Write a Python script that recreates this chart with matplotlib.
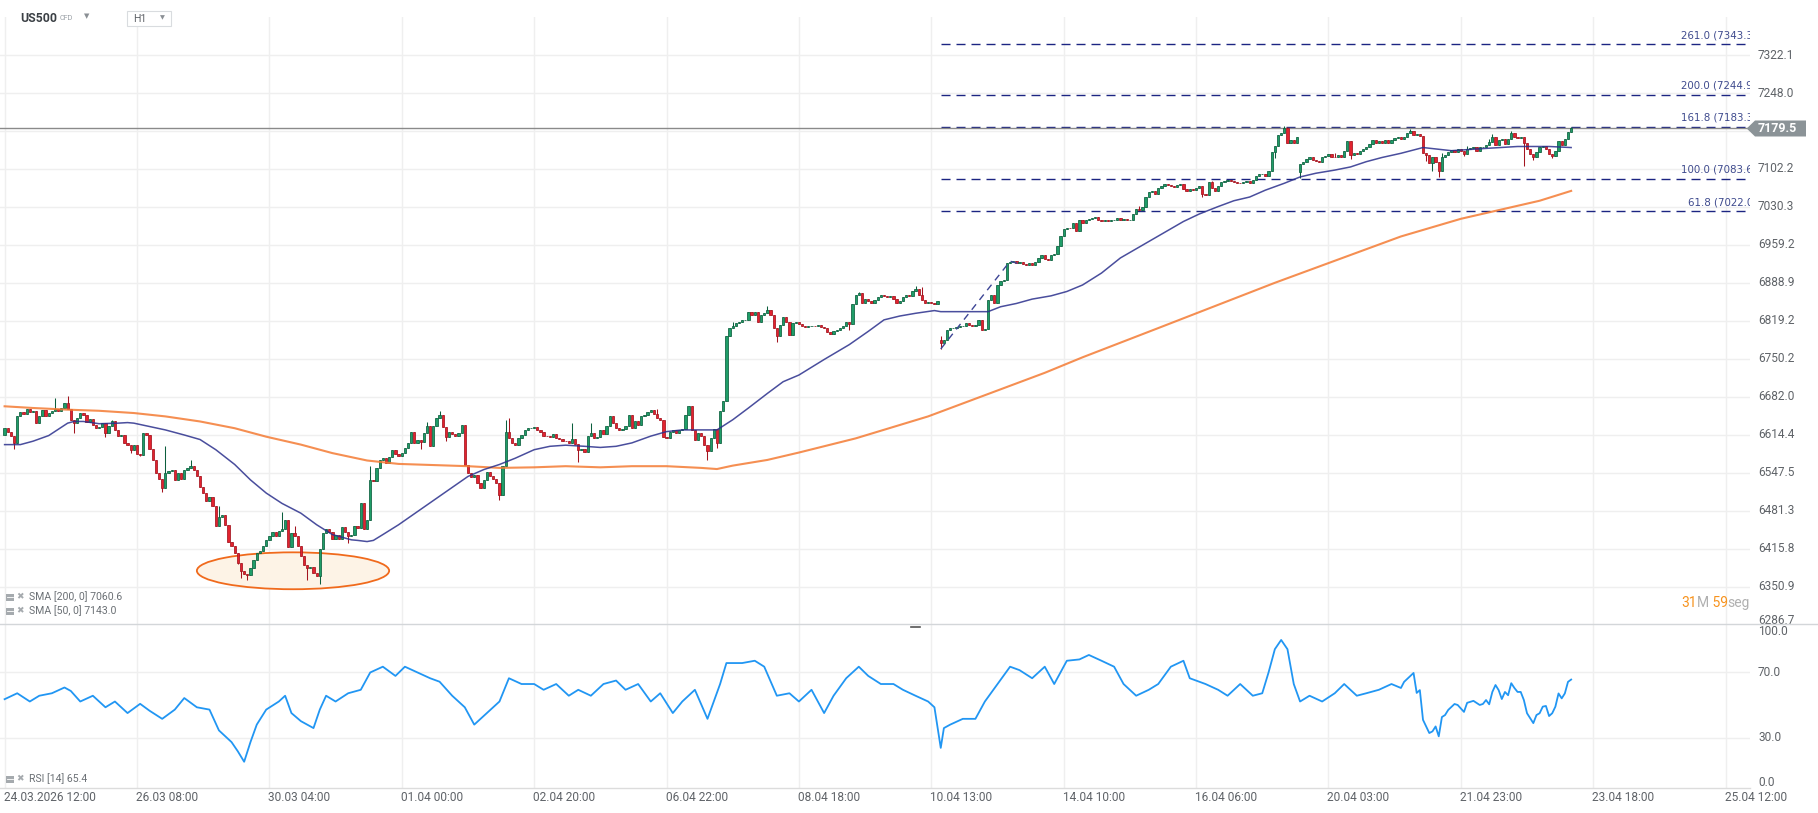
import numpy as np
import matplotlib
matplotlib.use("Agg")
import matplotlib.pyplot as plt
import matplotlib.transforms as mtransforms
from matplotlib.patches import Ellipse, Polygon, Rectangle
from matplotlib.lines import Line2D
from matplotlib.ticker import NullLocator

plt.rcParams['font.family'] = ['Roboto', 'DejaVu Sans']
plt.rcParams['lines.scale_dashes'] = False

# ---------------- data ----------------
first_open = 6614.0
closes_a = [6626, 6619, 6612, 6600, 6647, 6655, 6652, 6660, 6654, 6657,
            6636, 6647, 6658, 6647, 6653, 6656, 6660, 6656, 6662, 6671,
            6660, 6641, 6636, 6645, 6653, 6650, 6637, 6642, 6632, 6626,
            6628, 6636, 6617, 6630, 6638, 6623, 6612, 6614, 6600, 6596,
            6588, 6596, 6581, 6579, 6617, 6614, 6590, 6570, 6547, 6537,
            6520, 6547, 6550, 6553, 6535, 6547, 6537, 6553, 6556, 6560,
            6553, 6542, 6523, 6512, 6498, 6505, 6489, 6454, 6471, 6474,
            6456, 6428, 6420, 6408, 6392, 6378, 6372, 6370, 6382, 6397,
            6409, 6412, 6420, 6430, 6437, 6445, 6437, 6446, 6450, 6465,
            6418, 6442, 6437, 6420, 6403, 6388, 6383, 6385, 6374, 6369,
            6416, 6442, 6449, 6444, 6432, 6440, 6433, 6453, 6444, 6438,
            6440, 6454, 6451, 6494, 6450, 6466, 6535, 6533, 6555, 6570,
            6573, 6565, 6576, 6588, 6580, 6577]
closes_b = [6582, 6591, 6600, 6620, 6600, 6605, 6602, 6617, 6630, 6594,
            6630, 6645, 6650, 6628, 6610, 6619, 6615, 6612, 6617, 6632,
            6561, 6547, 6540, 6544, 6529, 6520, 6535, 6548, 6541, 6536,
            6529, 6508, 6560, 6620, 6608, 6600, 6597, 6608, 6614, 6623,
            6627, 6627, 6628, 6622, 6620, 6613, 6612, 6611, 6615, 6608,
            6607, 6604, 6603, 6600, 6607, 6598, 6588, 6590, 6584, 6613,
            6617, 6609, 6611, 6622, 6615, 6630, 6647, 6635, 6627, 6622,
            6625, 6630, 6650, 6627, 6638, 6631, 6648, 6650, 6655, 6659,
            6651, 6645, 6640, 6610, 6608, 6620, 6622, 6617, 6622, 6625,
            6650, 6665, 6622, 6605, 6617, 6613, 6596, 6585, 6608, 6625,
            6600, 6656, 6674, 6791, 6806, 6809, 6815, 6818, 6820, 6821,
            6836, 6830, 6836, 6818, 6830, 6834, 6839, 6830, 6806, 6791,
            6812, 6826, 6818, 6794, 6815, 6818]
closes_c = [6814, 6810, 6808, 6809, 6810, 6809, 6812, 6808, 6806, 6798,
            6795, 6801, 6803, 6807, 6810, 6818, 6814,
            6850, 6866, 6870, 6852, 6860, 6856, 6851, 6858, 6863, 6866,
            6864, 6862, 6865, 6859, 6852, 6856, 6862, 6866, 6864, 6873,
            6878, 6866, 6857, 6851, 6853, 6851, 6850, 6856]
closes_d = [6778, 6785, 6803, 6806, 6806, 6808, 6809, 6810, 6815, 6812,
            6810, 6812, 6820, 6803, 6805, 6857, 6866, 6851, 6885, 6892,
            6895, 6925, 6928, 6929, 6925, 6927, 6924, 6922, 6925, 6922,
            6928, 6934, 6941, 6933, 6931, 6940, 6942, 6958, 6976, 6988,
            6991, 6990, 7000, 6985, 7005, 7000, 7006, 7008, 7010, 7011,
            7006,
            7003, 7005, 7003, 7006, 7006, 7010, 7006, 7008, 7005, 7006,
            7017, 7027, 7024, 7031, 7049, 7058, 7061, 7055, 7066, 7069,
            7074, 7072, 7069, 7068, 7071, 7074, 7065, 7061, 7064, 7062,
            7066, 7069, 7055, 7053, 7077, 7066, 7061, 7070, 7078, 7080,
            7081, 7079, 7078, 7076, 7075, 7077, 7080, 7076, 7081, 7088,
            7092, 7093, 7089, 7099, 7135, 7145, 7167, 7171, 7180, 7152,
            7158, 7152, 7163]
closes_e = [7112, 7115, 7122, 7125, 7119, 7117, 7116, 7124, 7127, 7130,
            7125, 7124, 7129, 7124, 7137, 7156, 7128, 7133, 7130, 7137,
            7140, 7144, 7150, 7158, 7151, 7156, 7152, 7157, 7151, 7158,
            7162, 7163, 7160, 7164, 7170, 7175, 7167, 7168, 7165, 7132,
            7128, 7113, 7124, 7115, 7098, 7124, 7129, 7135, 7138, 7134,
            7140, 7136, 7131, 7141, 7143, 7144, 7137, 7144, 7144, 7147,
            7154, 7164, 7148, 7158, 7160, 7150, 7159, 7170, 7163, 7161,
            7163, 7152, 7141, 7131, 7124, 7135, 7144, 7145, 7141, 7131,
            7127, 7137, 7155, 7147, 7160, 7173, 7179.5]
gap_opens = {297: 6785.0, 411: 7097.0}
wick_high = {16: 6680, 20: 6684, 34: 6641, 51: 6595, 59: 6570, 68: 6489,
             88: 6479, 92: 6454, 116: 6560, 134: 6637, 138: 6656, 159: 6641,
             160: 6645, 180: 6636, 186: 6636, 207: 6660, 231: 6818, 242: 6847,
             271: 6872, 289: 6883, 291: 6881, 297: 6791, 360: 7033, 383: 7080,
             406: 7184, 407: 7183, 422: 7132, 446: 7178, 456: 7133, 464: 7145,
             471: 7160, 472: 7169, 478: 7174, 497: 7183}
wick_low = {3: 6590, 22: 6617, 32: 6611, 40: 6582, 43: 6577, 50: 6514,
            74: 6389, 75: 6366, 77: 6362, 96: 6362, 100: 6355, 109: 6425,
            132: 6590, 140: 6604, 157: 6500, 182: 6567, 223: 6570, 226: 6591,
            245: 6780, 268: 6803, 297: 6768, 380: 7049, 403: 7123, 411: 7085,
            427: 7122, 451: 7118, 453: 7098, 455: 7087, 463: 7127, 482: 7107,
            485: 7119, 491: 7123}

sma200_idx = [0, 9, 20, 30, 41, 51, 62, 73, 83, 94, 104, 115, 125, 136, 147,
              157, 168, 178, 189, 199, 210, 221, 226, 231, 242, 252, 270, 293,
              330, 342, 366, 403, 443, 462, 487, 497]
sma200_val = [6665, 6662, 6659, 6657, 6653, 6647, 6638, 6626, 6611, 6597, 6582,
              6569, 6563, 6561, 6559, 6556, 6557, 6559, 6557, 6559, 6559, 6556,
              6554, 6560, 6570, 6583, 6608, 6647, 6725, 6753, 6806, 6889, 6975,
              7008, 7042, 7060.6]
sma50_idx = [0, 5, 9, 14, 20, 22, 25, 30, 36, 39, 41, 46, 51, 57, 62, 67, 73,
             78, 83, 88, 94, 99, 104, 110, 112, 115, 117, 120, 125, 141, 147,
             152, 157, 162, 168, 173, 178, 184, 189, 194, 199, 205, 210, 215,
             221, 226, 231, 236, 242, 247, 252, 260, 268, 274, 279, 284, 289,
             295, 297, 312, 316, 321, 326, 332, 337, 342, 348, 354, 374, 379,
             385, 390, 395, 400, 406, 411, 416, 422, 427, 432, 437, 443, 450,
             459, 469, 480, 490, 497]
sma50_val = [6597, 6597, 6603, 6613, 6635, 6638, 6638, 6634, 6635, 6636, 6635,
             6629, 6623, 6614, 6606, 6588, 6562, 6535, 6512, 6494, 6477, 6457,
             6440, 6431, 6430, 6428, 6430, 6440, 6457, 6518, 6541, 6553, 6562,
             6573, 6588, 6594, 6596, 6594, 6592, 6594, 6600, 6612, 6620, 6623,
             6623, 6623, 6641, 6662, 6688, 6709, 6721, 6749, 6776, 6800, 6821,
             6828, 6833, 6838, 6836, 6836, 6845, 6851, 6859, 6865, 6873, 6885,
             6907, 6935, 7003, 7017, 7031, 7042, 7049, 7062, 7075, 7087, 7094,
             7100, 7106, 7116, 7124, 7132, 7143, 7137, 7141, 7145, 7145, 7143]

rsi_idx = [0, 4, 8, 11, 15, 19, 21, 24, 28, 32, 35, 39, 43, 46, 50, 54, 57,
           61, 65, 68, 72, 74, 76, 78, 80, 83, 87, 89, 91, 94, 98, 100, 102,
           105, 109, 113, 116, 120, 124, 127, 131, 135, 138, 142, 146, 149,
           153, 157, 160, 164, 168, 171, 175, 179, 182, 186, 190, 194, 197,
           201, 205, 208, 212, 215, 219, 223, 227, 229, 234, 238, 241, 245,
           249, 252, 256, 260, 263, 267, 271, 274, 278, 282, 285, 289, 293,
           295, 297, 298, 300, 304, 308, 311, 315, 319, 322, 326, 330, 333,
           337, 341, 344, 348, 352, 355, 359, 363, 366, 370, 374, 376, 381,
           385, 388, 392, 396, 399, 401, 403, 405, 407, 409, 411, 414, 418,
           422, 425, 429, 432, 436, 440, 443, 444, 447, 448, 449, 450, 452,
           453, 454, 455, 456, 457, 458, 460, 461, 463, 464, 466, 468, 469,
           470, 471, 472, 473, 474, 475, 476, 477, 478, 479, 480, 481, 482,
           483, 485, 486, 487, 488, 489, 490, 491, 492, 493, 494, 495, 496, 497]
rsi_val = [53.5, 57.1, 52.1, 55.6, 57.1, 60.6, 58.5, 52.1, 55.6, 48.6, 52.1,
           45.1, 50.7, 46.5, 41.6, 47.2, 54.2, 48.6, 47.2, 34.6, 27.5, 21.9,
           15.6, 27.5, 38.1, 47.2, 52.1, 55.6, 45.1, 40.2, 36.0, 47.2, 55.6,
           52.1, 57.1, 59.2, 69.7, 73.2, 67.6, 73.2, 69.7, 66.2, 64.1, 55.6,
           48.6, 38.1, 45.1, 52.1, 66.2, 62.7, 62.7, 59.2, 62.7, 55.6, 59.2,
           55.6, 62.7, 64.8, 59.2, 62.7, 52.1, 57.1, 45.1, 52.1, 59.2, 41.6,
           62.7, 75.4, 75.4, 76.8, 73.2, 55.6, 57.1, 52.1, 59.2, 45.1, 55.6,
           66.2, 73.2, 67.6, 62.7, 62.7, 59.2, 55.6, 52.1, 48.6, 24.0, 36.0,
           38.1, 41.6, 41.6, 52.1, 62.7, 73.2, 71.1, 66.2, 73.2, 62.7, 76.8,
           77.6, 80.3, 76.8, 73.2, 62.7, 55.6, 59.2, 62.7, 73.2, 76.8, 66.2,
           62.7, 59.2, 55.6, 62.7, 55.6, 57.1, 69.7, 83.8, 89.4, 83.8, 62.7,
           52.1, 55.6, 52.1, 57.1, 62.7, 55.6, 57.1, 59.2, 62.7, 60.3, 64.0,
           69.4, 57.3, 59.0, 41.0, 33.0, 34.0, 37.0, 31.0, 42.7, 43.9, 47.0,
           50.6, 50.0, 45.8, 51.3, 52.5, 50.0, 50.6, 53.0, 50.4, 57.9, 62.1,
           59.0, 53.6, 57.9, 55.9, 63.2, 60.3, 57.9, 57.9, 53.0, 45.0, 39.0,
           43.9, 45.0, 49.0, 49.4, 43.3, 45.0, 49.0, 57.0, 54.0, 57.0, 64.0, 65.4]

price_ticks = [7322.1, 7248.0, 7174.7, 7102.2, 7030.3, 6959.2, 6888.9, 6819.2,
               6750.2, 6682.0, 6614.4, 6547.5, 6481.3, 6415.8, 6350.9, 6286.7]
price_top, price_bottom = 7397.0, 6286.7
rsi_ticks = [100.0, 70.0, 30.0, 0.0]
date_labels = ['24.03.2026 12:00', '26.03 08:00', '30.03 04:00', '01.04 00:00',
               '02.04 20:00', '06.04 22:00', '08.04 18:00', '10.04 13:00',
               '14.04 10:00', '16.04 06:00', '20.04 03:00', '21.04 23:00',
               '23.04 18:00', '25.04 12:00']
bars_per_grid = 42
fib_levels = [261.0, 200.0, 161.8, 100.0, 61.8]
fib_prices = [7343.3, 7244.9, 7183.3, 7083.6, 7022.0]
fib_anchor_idx = [297, 319, 323]
fib_anchor_price = [6768, 6929, 6922]
last_price = 7179.5
sma200_last, sma50_last, rsi_last = 7060.6, 7143.0, 65.4
marked_low = dict(center_idx=91.5, center_price=6378, width_bars=61, height_price=63)

# ---------------- layout ----------------
W, H, DPI = 1818, 813, 100
BAR_PX, X0_PX = 3.152, 4.6
PLOT_R = 1750
MAIN_T, MAIN_B, RSI_B = 17.0, 624.6, 787.5

fig = plt.figure(figsize=(W / DPI, H / DPI), dpi=DPI)
fig.patch.set_facecolor('white')

def fx(px):
    return px / W

def fy(py):
    return 1 - py / H

ax = fig.add_axes([0, fy(MAIN_B), fx(PLOT_R), (MAIN_B - MAIN_T) / H])
axr = fig.add_axes([0, fy(RSI_B), fx(PLOT_R), (RSI_B - MAIN_B) / H])
xlim = (-X0_PX / BAR_PX, (PLOT_R - X0_PX) / BAR_PX)

closes = np.array(closes_a + closes_b + closes_c + closes_d + closes_e, dtype=float)
n = len(closes)
xi = np.arange(n)
opens = np.empty(n)
opens[0] = first_open
opens[1:] = closes[:-1]
for k, v in gap_opens.items():
    opens[k] = v
highs = np.maximum(opens, closes)
lows = np.minimum(opens, closes)
for k, v in wick_high.items():
    highs[k] = max(highs[k], v)
for k, v in wick_low.items():
    lows[k] = min(lows[k], v)
up = closes >= opens

G_FACE, G_EDGE = '#1f9d68', '#0c5f3d'
R_FACE, R_EDGE = '#e2232f', '#a3141f'
GRID = '#efefef'
LABEL = '#5f6368'

for a in (ax, axr):
    for s in a.spines.values():
        s.set_visible(False)
    a.set_xlim(*xlim)
    a.set_xticks(np.arange(0, len(date_labels) * bars_per_grid, bars_per_grid))
    a.tick_params(left=False, bottom=False, labelleft=False, labelbottom=False)
    a.grid(True, color=GRID, lw=1.0, zorder=0)
    a.set_axisbelow(True)
    a.set_facecolor('none')

ax.set_yscale('log')
ax.set_ylim(price_bottom, price_top)
ax.set_yticks(price_ticks)
ax.yaxis.set_minor_locator(NullLocator())
ax.tick_params(which='both', left=False, labelleft=False)

# marked zone (ellipse)
ax.add_patch(Ellipse((marked_low['center_idx'], marked_low['center_price']),
                     marked_low['width_bars'], marked_low['height_price'],
                     facecolor='#fdf3e6', edgecolor='#f06a1c', lw=1.3, zorder=1.5))

# candles
edge_cols = np.where(up, G_EDGE, R_EDGE)
face_cols = np.where(up, G_FACE, R_FACE)
ax.vlines(xi, lows, highs, colors=edge_cols, lw=0.75, zorder=3)
ax.bar(xi, np.abs(closes - opens), bottom=np.minimum(opens, closes), width=0.72,
       color=face_cols, edgecolor=edge_cols, linewidth=0.55, zorder=3.1)

# moving averages
ax.plot(sma200_idx, sma200_val, color='#f47b34', lw=1.5, alpha=0.85, zorder=4)
ax.plot(sma50_idx, sma50_val, color='#2a2f8c', lw=1.1, alpha=0.85, zorder=4)

# fibonacci extension
FIB_LINE = '#1c2582'
ax.plot(fib_anchor_idx, fib_anchor_price, color='#3d4595', lw=1.0,
        dashes=(5, 4), zorder=4.2)
for lv, p in zip(fib_levels, fib_prices):
    ax.plot([fib_anchor_idx[0], xlim[1]], [p, p], color=FIB_LINE, lw=1.0,
            dashes=(6.5, 4.3), zorder=2.5)
    tr = mtransforms.offset_copy(ax.get_yaxis_transform(), fig=fig, x=0, y=9, units='dots')
    ax.text(1757 / PLOT_R, p, f'{lv:.1f} ({p:.1f})', transform=tr, ha='right',
            va='center', fontsize=7.4, color='#3f4b8e', family='DejaVu Sans',
            clip_on=True, zorder=5)

# current price line
ax.axhline(last_price, color='#8a8a8a', lw=1.0, zorder=2.8)

# price axis labels
for p in price_ticks:
    if abs(p - 7174.7) < 0.01:
        continue
    dy = 4 if p == price_bottom else 0
    tr = mtransforms.offset_copy(ax.get_yaxis_transform(), fig=fig, x=0, y=dy, units='dots')
    ax.text(1758 / PLOT_R, p, f'{p:.1f}', transform=tr, ha='left', va='center',
            fontsize=8.6, color=LABEL, clip_on=False)

# price tag
fig.canvas.draw()
ytag = ax.transData.transform((0, last_price))[1]
tag_pts = [(1746.7, ytag), (1755, ytag + 8), (1806, ytag + 8), (1806, ytag - 8), (1755, ytag - 8)]
fig.add_artist(Polygon([(x / W, y / H) for x, y in tag_pts], closed=True,
                       transform=fig.transFigure, facecolor='#8b9397', edgecolor='none'))
fig.text(1777 / W, ytag / H, f'{last_price:.1f}', color='white', fontsize=9,
         fontweight='bold', ha='center', va='center')

# RSI panel
axr.set_ylim(0, 98.7)
axr.set_yticks([30, 70])
axr.plot(rsi_idx, rsi_val, color='#2196f3', lw=1.3, zorder=3)
axr.axhline(0, color='#dcdcdc', lw=1.0, clip_on=False)
rsi_offsets = {100.0: -9.5, 70.0: -1.0, 30.0: 0.0, 0.0: 5.5}
for v in rsi_ticks:
    tr = mtransforms.offset_copy(axr.get_yaxis_transform(), fig=fig, x=0,
                                 y=rsi_offsets[v], units='dots')
    axr.text(1758 / PLOT_R, v, f'{v:.1f}', transform=tr, ha='left', va='center',
             fontsize=8.6, color=LABEL, clip_on=False)

# date labels
for k, lab in enumerate(date_labels):
    tr = mtransforms.offset_copy(axr.get_xaxis_transform(), fig=fig, x=-1, y=-9.5, units='dots')
    axr.text(k * bars_per_grid, 0, lab, transform=tr, ha='left', va='center',
             fontsize=8.6, color=LABEL, clip_on=False)

# panel separator and handle
fig.add_artist(Line2D([0, 1], [fy(624.3)] * 2, color='#d3d6d9', lw=1.0))
fig.add_artist(Line2D([fx(911), fx(920)], [fy(626.5)] * 2, color='#555555', lw=1.2))

# legends
def legend_row(y, text):
    fig.add_artist(Rectangle((fx(6), fy(y + 3.5)), 8 / W, 7 / H, transform=fig.transFigure,
                             facecolor='#a5aaae', edgecolor='none'))
    fig.add_artist(Line2D([fx(7), fx(13)], [fy(y)] * 2, color='white', lw=0.6))
    fig.text(fx(16), fy(y), '\u2716', fontsize=6.5, color='#a5aaae', va='center',
             family='DejaVu Sans')
    fig.text(fx(29), fy(y), text, fontsize=7.6, color='#6b7075', va='center')

legend_row(597, f'SMA [200, 0] {sma200_last:.1f}')
legend_row(611, f'SMA [50, 0] {sma50_last:.1f}')
legend_row(779, f'RSI [14] {rsi_last:.1f}')

# header
fig.text(fx(20), fy(18), 'US500', fontsize=8.8, fontweight='bold', color='#3b4045', va='center')
fig.text(fx(60), fy(19), 'CFD', fontsize=5.2, color='#9aa0a6', va='center')
fig.text(fx(84), fy(16), '\u25BC', fontsize=5, color='#8a8f94', va='center', family='DejaVu Sans')
fig.add_artist(Rectangle((fx(127), fy(25.7)), 44 / W, 15 / H, transform=fig.transFigure,
                         facecolor='white', edgecolor='#d9dcdf', lw=0.8))
fig.text(fx(133), fy(18.5), 'H1', fontsize=7.6, color='#5f6368', va='center')
fig.text(fx(160), fy(17.5), '\u25BC', fontsize=4.6, color='#8a8f94', va='center', family='DejaVu Sans')

# countdown
renderer = fig.canvas.get_renderer()
xpos = 1681.0
for s, col in [('31', '#f7931e'), ('M', '#b0b0b0'), (' 59', '#f7931e'), ('seg', '#b0b0b0')]:
    t = fig.text(fx(xpos), fy(603), s, color=col, fontsize=10, va='center', ha='left')
    xpos += t.get_window_extent(renderer=renderer).width

fig.savefig('out.png', dpi=DPI, facecolor='white')
